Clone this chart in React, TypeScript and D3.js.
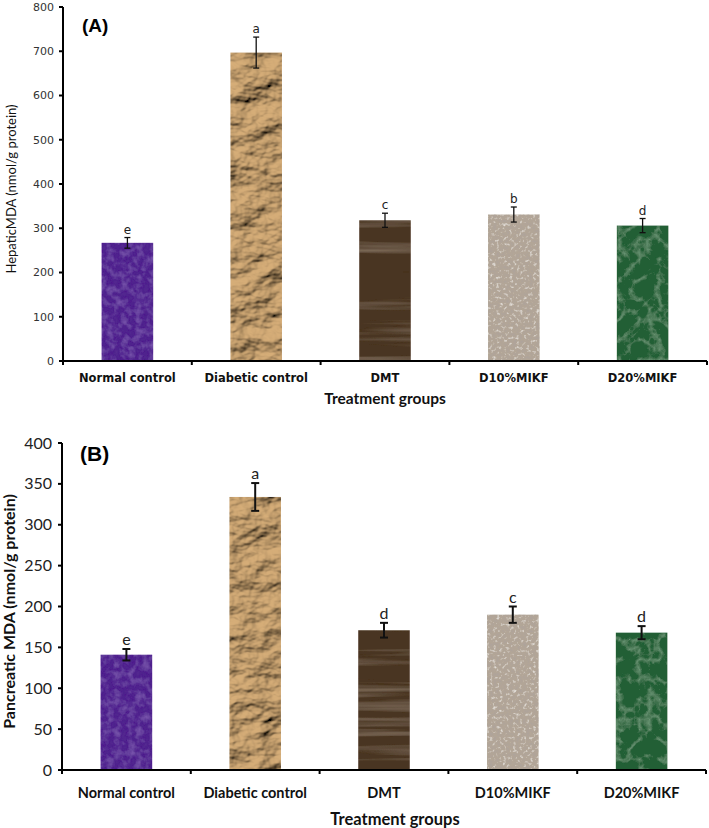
import React from "react";
import * as d3 from "d3";

const categories = ["Normal control", "Diabetic control", "DMT", "D10%MIKF", "D20%MIKF"];
const hepaticValues = [267, 697, 318, 331, 306];
const hepaticErrors = [12, 35, 16, 17, 16];
const hepaticLetters = ["e", "a", "c", "b", "d"];
const pancreaticValues = [141, 334, 171, 190, 168];
const pancreaticErrors = [7, 17, 9, 10, 8];
const pancreaticLetters = ["e", "a", "d", "c", "d"];
const hepaticTicks = [0, 100, 200, 300, 400, 500, 600, 700, 800];
const pancreaticTicks = [0, 50, 100, 150, 200, 250, 300, 350, 400];
const textures = ["tex-purple", "tex-paper", "tex-wood", "tex-speckle", "tex-green"];
const baseColors = ["#4a1e8a", "#c6a274", "#4a3424", "#b3a697", "#245f36"];

function Defs() {
  return (
    <defs>
      <filter id="tex-purple" x="0" y="0" width="100%" height="100%">
        <feTurbulence type="fractalNoise" baseFrequency="0.14" numOctaves="3" seed="3" result="n" />
        <feColorMatrix in="n" type="matrix" values="0 0 0 0 0.45  0 0 0 0 0.25  0 0 0 0 0.75  0.6 0 0 0 -0.22" result="c" />
        <feComposite in="c" in2="SourceGraphic" operator="in" result="ci" />
        <feColorMatrix in="n" type="matrix" values="0 0 0 0 0.15  0 0 0 0 0.05  0 0 0 0 0.35  -0.7 0 0 0 0.38" result="d" />
        <feComposite in="d" in2="SourceGraphic" operator="in" result="di" />
        <feMerge><feMergeNode in="SourceGraphic" /><feMergeNode in="ci" /><feMergeNode in="di" /></feMerge>
      </filter>
      <filter id="tex-paper" x="0" y="0" width="100%" height="100%">
        <feTurbulence type="fractalNoise" baseFrequency="0.03 0.045" numOctaves="4" seed="7" result="n" />
        <feDiffuseLighting in="n" surfaceScale="9" diffuseConstant="1.0" lightingColor="#d6ad78" result="l">
          <feDistantLight azimuth="235" elevation="50" />
        </feDiffuseLighting>
        <feComposite in="l" in2="SourceGraphic" operator="in" />
      </filter>
      <filter id="tex-wood" x="0" y="0" width="100%" height="100%">
        <feTurbulence type="fractalNoise" baseFrequency="0.004 0.12" numOctaves="3" seed="5" result="n" />
        <feColorMatrix in="n" type="matrix" values="0 0 0 0 0.45  0 0 0 0 0.34  0 0 0 0 0.24  1.0 0 0 0 -0.5" result="c" />
        <feComposite in="c" in2="SourceGraphic" operator="in" result="ci" />
        <feMerge><feMergeNode in="SourceGraphic" /><feMergeNode in="ci" /></feMerge>
      </filter>
      <filter id="tex-speckle" x="0" y="0" width="100%" height="100%">
        <feTurbulence type="fractalNoise" baseFrequency="0.3" numOctaves="2" seed="11" result="n" />
        <feColorMatrix in="n" type="matrix" values="0 0 0 0 0.42  0 0 0 0 0.37  0 0 0 0 0.33  2.4 0 0 0 -1.1" result="dark" />
        <feColorMatrix in="n" type="matrix" values="0 0 0 0 0.88  0 0 0 0 0.86  0 0 0 0 0.83  -2.4 0 0 0 1.05" result="light" />
        <feComposite in="dark" in2="SourceGraphic" operator="in" result="di" />
        <feComposite in="light" in2="SourceGraphic" operator="in" result="li" />
        <feMerge><feMergeNode in="SourceGraphic" /><feMergeNode in="di" /><feMergeNode in="li" /></feMerge>
      </filter>
      <filter id="tex-green" x="0" y="0" width="100%" height="100%">
        <feTurbulence type="turbulence" baseFrequency="0.05" numOctaves="4" seed="9" result="n" />
        <feColorMatrix in="n" type="matrix" values="0 0 0 0 0.35  0 0 0 0 0.6  0 0 0 0 0.4  -1.2 0 0 0 0.38" result="c" />
        <feComposite in="c" in2="SourceGraphic" operator="in" result="ci" />
        <feMerge><feMergeNode in="SourceGraphic" /><feMergeNode in="ci" /></feMerge>
      </filter>
    </defs>
  );
}

type PanelProps = {
  values: number[];
  errors: number[];
  letters: string[];
  ticks: number[];
  yMax: number;
  x0: number;
  x1: number;
  yTop: number;
  yBottom: number;
  tickFont: string;
  tickSize: number;
  tickColor: string;
  tickLen: number;
  tickLabelGap: number;
  catFont: string;
  catSize: number;
  catY: number;
  titleY: number;
  titleX: number;
  titleSize: number;
  yTitle: string;
  yTitleX: number;
  yTitleSize: number;
  yTitleWeight: number;
  yTitleFont: string;
  panelLabel: string;
  panelX: number;
  panelY: number;
  panelSize: number;
  letterSize: number;
  letterFont: string;
  capHalf: number;
  errWidth: number;
};

function Panel(p: PanelProps) {
  const x = d3.scaleBand<string>().domain(categories).range([p.x0, p.x1]).paddingInner(0.6).paddingOuter(0.3);
  const y = d3.scaleLinear().domain([0, p.yMax]).range([p.yBottom, p.yTop]);
  const step = x.step();
  const bw = x.bandwidth();
  return (
    <g>
      {categories.map((c, i) => {
        const bx = x(c) as number;
        const top = y(p.values[i]);
        const cx = bx + bw / 2;
        const eT = y(p.values[i] + p.errors[i]);
        const eB = y(p.values[i] - p.errors[i]);
        return (
          <g key={c}>
            <rect x={bx} y={top} width={bw} height={p.yBottom - top} fill={baseColors[i]} filter={`url(#${textures[i]})`} />
            <line x1={cx} x2={cx} y1={eT} y2={eB} stroke="#111" strokeWidth={p.errWidth} />
            <line x1={cx - p.capHalf} x2={cx + p.capHalf} y1={eT} y2={eT} stroke="#111" strokeWidth={p.errWidth} />
            <line x1={cx - p.capHalf} x2={cx + p.capHalf} y1={eB} y2={eB} stroke="#111" strokeWidth={p.errWidth} />
            <text x={cx} y={eT - 4} textAnchor="middle" fontFamily={p.letterFont} fontSize={p.letterSize} fill="#222">{p.letters[i]}</text>
            <text x={cx} y={p.catY} textAnchor="middle" fontFamily={p.catFont} fontWeight={700} fontSize={p.catSize} fill="#111">{c}</text>
          </g>
        );
      })}
      <line x1={p.x0} x2={p.x0} y1={p.yTop} y2={p.yBottom + 1} stroke="#000" strokeWidth={2} />
      <line x1={p.x0 - 1} x2={p.x1} y1={p.yBottom} y2={p.yBottom} stroke="#000" strokeWidth={2} />
      {d3.range(categories.length + 1).map((i) => (
        <line key={i} x1={p.x0 + i * step} x2={p.x0 + i * step} y1={p.yBottom} y2={p.yBottom + 4} stroke="#000" strokeWidth={2} />
      ))}
      {p.ticks.map((t) => (
        <g key={t}>
          <line x1={p.x0 - p.tickLen} x2={p.x0} y1={y(t)} y2={y(t)} stroke="#000" strokeWidth={2} />
          <text x={p.x0 - p.tickLen - p.tickLabelGap} y={y(t)} dy="0.35em" textAnchor="end" fontFamily={p.tickFont} fontSize={p.tickSize} fill={p.tickColor}>{t}</text>
        </g>
      ))}
      <text x={p.titleX} y={p.titleY} textAnchor="middle" fontFamily="Lato" fontWeight={700} fontSize={p.titleSize} fill="#111">Treatment groups</text>
      <text transform={`translate(${p.yTitleX},${(p.yTop + p.yBottom) / 2 + 5}) rotate(-90)`} textAnchor="middle" dy="0.35em" fontFamily={p.yTitleFont} fontWeight={p.yTitleWeight} fontSize={p.yTitleSize} fill="#111">{p.yTitle}</text>
      <text x={p.panelX} y={p.panelY} fontFamily="Liberation Sans" fontWeight={700} fontSize={p.panelSize} fill="#000">{p.panelLabel}</text>
    </g>
  );
}

export default function App() {
  return (
    <svg width={709} height={828} style={{ position: "absolute", left: 0, top: 0, background: "#fff" }}>
      <Defs />
      <Panel
        values={hepaticValues} errors={hepaticErrors} letters={hepaticLetters} ticks={hepaticTicks} yMax={800}
        x0={63} x1={707} yTop={7} yBottom={361}
        tickFont="DejaVu Sans" tickSize={11} tickColor="#333" tickLen={4} tickLabelGap={5}
        catFont="DejaVu Sans" catSize={11.5} catY={382}
        titleX={385} titleY={404} titleSize={15.5}
        yTitle="HepaticMDA (nmol/g protein)" yTitleX={11} yTitleSize={13} yTitleWeight={400} yTitleFont="Lato"
        panelLabel="(A)" panelX={82} panelY={32} panelSize={19}
        letterSize={12} letterFont="DejaVu Sans" capHalf={3} errWidth={1.3}
      />
      <Panel
        values={pancreaticValues} errors={pancreaticErrors} letters={pancreaticLetters} ticks={pancreaticTicks} yMax={400}
        x0={62} x1={706} yTop={443} yBottom={770}
        tickFont="Lato" tickSize={16} tickColor="#222" tickLen={4} tickLabelGap={6}
        catFont="Lato" catSize={14.5} catY={798}
        titleX={395} titleY={825} titleSize={16.5}
        yTitle="Pancreatic MDA (nmol/g protein)" yTitleX={9} yTitleSize={16} yTitleWeight={700} yTitleFont="Lato"
        panelLabel="(B)" panelX={80} panelY={461} panelSize={21}
        letterSize={16} letterFont="Lato" capHalf={4} errWidth={2}
      />
    </svg>
  );
}
